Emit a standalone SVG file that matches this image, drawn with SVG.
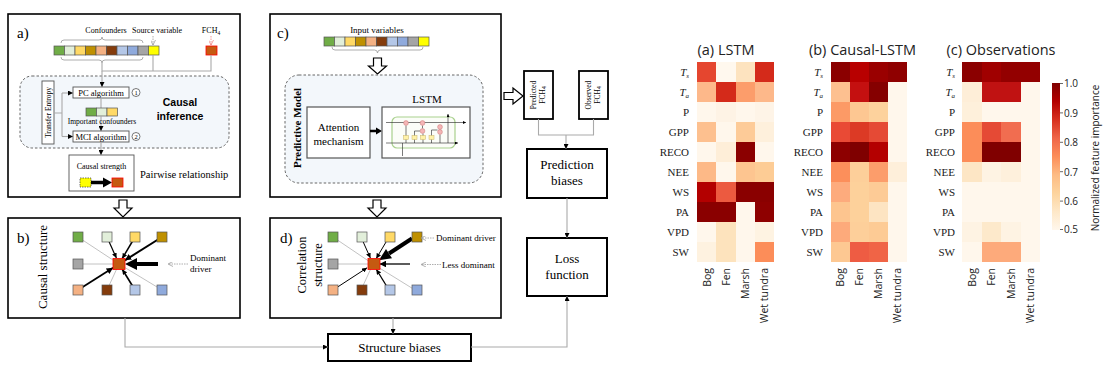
<svg xmlns="http://www.w3.org/2000/svg" width="1106" height="389" viewBox="0 0 1106 389">
<style>
.serif{font-family:"Liberation Serif","Times New Roman",serif;fill:#000}
.sans{font-family:"Open Sans","Liberation Sans",sans-serif;fill:#222}
.bsans{font-family:"Liberation Sans",Arial,sans-serif;font-weight:bold;fill:#000}
.panel{fill:#fff;stroke:#000;stroke-width:1.6}
.box{fill:#fff;stroke:#000;stroke-width:2}
.sbox{fill:#fff;stroke:#555;stroke-width:0.9}
.region{fill:#f3f7fb;stroke:#666;stroke-width:1;stroke-dasharray:2.5 2}
.conn{fill:none;stroke:#aaa;stroke-width:1.1}
.gl{stroke:#bbb;stroke-width:0.9}
.bl{stroke:#000;fill:none}
.hollow{fill:#fff;stroke:#000;stroke-width:1.2}
.sq{stroke:#555;stroke-width:0.7}
.brk{fill:none;stroke:#999;stroke-width:0.8}
.lbl{font-family:"Liberation Serif","Times New Roman",serif;font-size:11px;fill:#1a1a1a}
.it{font-style:italic}
.col{font-family:"Open Sans","Liberation Sans",sans-serif;font-size:10.5px;fill:#222}
.hm rect{shape-rendering:crispEdges}
</style>
<defs>
<marker id="a5" viewBox="0 0 10 10" refX="10" refY="5" markerWidth="5" markerHeight="5" markerUnits="userSpaceOnUse" orient="auto"><path d="M0,0 L10,5 L0,10 z" fill="#000"/></marker>
<marker id="a6" viewBox="0 0 10 10" refX="10" refY="5" markerWidth="6.5" markerHeight="6.5" markerUnits="userSpaceOnUse" orient="auto"><path d="M0,0 L10,5 L0,10 z" fill="#000"/></marker>
<marker id="a3" viewBox="0 0 10 10" refX="10" refY="5" markerWidth="3" markerHeight="3" markerUnits="userSpaceOnUse" orient="auto"><path d="M0,0 L10,5 L0,10 z" fill="#000"/></marker>
<marker id="ag" viewBox="0 0 10 10" refX="10" refY="5" markerWidth="5" markerHeight="5" markerUnits="userSpaceOnUse" orient="auto"><path d="M0,0 L10,5 L0,10" fill="none" stroke="#999" stroke-width="1.5"/></marker>
<marker id="ap" viewBox="0 0 10 10" refX="10" refY="5" markerWidth="5" markerHeight="5" markerUnits="userSpaceOnUse" orient="auto"><path d="M0,0 L10,5 L0,10" fill="none" stroke="#f08080" stroke-width="1.5"/></marker>
<g id="strip">
<rect class="sq" x="0" y="0" width="10.5" height="9" fill="#70ad47"/>
<rect class="sq" x="10.5" y="0" width="10.5" height="9" fill="#e2efda"/>
<rect class="sq" x="21" y="0" width="10.5" height="9" fill="#ffd966"/>
<rect class="sq" x="31.5" y="0" width="10.5" height="9" fill="#bf9000"/>
<rect class="sq" x="42" y="0" width="10.5" height="9" fill="#f4b183"/>
<rect class="sq" x="52.5" y="0" width="10.5" height="9" fill="#843c0c"/>
<rect class="sq" x="63" y="0" width="10.5" height="9" fill="#b4c7e7"/>
<rect class="sq" x="73.5" y="0" width="10.5" height="9" fill="#8faadc"/>
<rect class="sq" x="84" y="0" width="10.5" height="9" fill="#a5a5a5"/>
<rect class="sq" x="94.5" y="0" width="10.5" height="9" fill="#ffff00"/>
</g>
<g id="grid">
<rect class="sq" x="-5" y="-5" width="10" height="10" fill="#70ad47"/>
<rect class="sq" x="24" y="-5" width="10" height="10" fill="#e2efda"/>
<rect class="sq" x="52" y="-5" width="10" height="10" fill="#ffd966"/>
<rect class="sq" x="79" y="-5" width="10" height="10" fill="#bf9000"/>
<rect class="sq" x="-5" y="22" width="10" height="10" fill="#a5a5a5"/>
<rect x="35" y="21.5" width="12" height="11" fill="#c55a11" stroke="#f00" stroke-width="0.8"/>
<rect class="sq" x="-5" y="48" width="10" height="10" fill="#f4b183"/>
<rect class="sq" x="24" y="48" width="10" height="10" fill="#843c0c"/>
<rect class="sq" x="52" y="48" width="10" height="10" fill="#b4c7e7"/>
<rect class="sq" x="79" y="48" width="10" height="10" fill="#8faadc"/>
</g>
<linearGradient id="orrd" x1="0" y1="1" x2="0" y2="0">
<stop offset="0" stop-color="#fff7ec"/><stop offset="0.125" stop-color="#fee8c8"/><stop offset="0.25" stop-color="#fdd49e"/><stop offset="0.375" stop-color="#fdbb84"/><stop offset="0.5" stop-color="#fc8d59"/><stop offset="0.625" stop-color="#ef6548"/><stop offset="0.75" stop-color="#d7301f"/><stop offset="0.875" stop-color="#b30000"/><stop offset="1" stop-color="#7f0000"/>
</linearGradient>
</defs>
<rect width="1106" height="389" fill="#fff"/>

<!-- Panel a -->
<g id="panel-a">
<rect class="panel" x="8" y="14" width="232" height="183"/>
<text class="serif" x="17" y="38" font-size="15">a)</text>
<text class="serif" x="106" y="33" font-size="8" text-anchor="middle">Confounders</text>
<text class="serif" x="157" y="33" font-size="8" text-anchor="middle">Source variable</text>
<text class="serif" x="211" y="33" font-size="8" text-anchor="middle">FCH<tspan font-size="5.5" dy="1.5">4</tspan></text>
<path class="brk" d="M61,43 Q61,40 64,40 L99,40 Q102,40 102,37 Q102,40 105,40 L140,40 Q143,40 143,43"/>
<use href="#strip" x="54" y="46"/>
<path class="brk" d="M61,57 Q61,60 64,60 L99,60 Q102,60 102,63 Q102,60 105,60 L140,60 Q143,60 143,57"/>
<line x1="153" y1="36" x2="153" y2="45" stroke="#999" stroke-width="0.8" stroke-dasharray="1.5 1" marker-end="url(#ag)"/>
<line x1="211" y1="36" x2="211" y2="45" stroke="#f08080" stroke-width="0.8" stroke-dasharray="1.5 1" marker-end="url(#ap)"/>
<rect x="206" y="46" width="11" height="9" fill="#c55a11" stroke="#f00" stroke-width="0.8"/>
<path class="conn" d="M102,63 V71 H211 V55 M153,55 V71"/>
<rect class="region" x="20" y="76" width="209" height="72" rx="12"/>
<path class="conn" d="M102,71 V87" marker-end="url(#a5)"/>
<rect class="sbox" x="42" y="81" width="12" height="63"/>
<text class="serif" font-size="7.5" text-anchor="middle" transform="translate(50.5,112.5) rotate(-90)">Transfer Entropy</text>
<path class="conn" d="M54,113 H62 M62,93 V136.5"/>
<path class="conn" d="M62,93 H73" marker-end="url(#a5)"/>
<path class="conn" d="M62,136.5 H73" marker-end="url(#a5)"/>
<rect class="sbox" x="73" y="87" width="56" height="11"/>
<text class="serif" x="101" y="95.5" font-size="8.5" text-anchor="middle">PC algorithm</text>
<circle cx="136" cy="92.5" r="4" fill="#fff" stroke="#555" stroke-width="0.8"/>
<text class="serif" x="136" y="95" font-size="6.5" text-anchor="middle">1</text>
<path class="conn" d="M101,98 V108"/>
<rect class="sq" x="86" y="108" width="10.5" height="8" fill="#70ad47"/>
<rect class="sq" x="96.5" y="108" width="10.5" height="8" fill="#e2efda"/>
<rect class="sq" x="107" y="108" width="10.5" height="8" fill="#ffd966"/>
<path class="conn" d="M101,116 V131" marker-end="url(#a5)"/>
<text class="serif" x="102" y="124" font-size="7.5" text-anchor="middle">Important confounders</text>
<rect class="sbox" x="73" y="131" width="56" height="11"/>
<text class="serif" x="101" y="139.5" font-size="8.5" text-anchor="middle">MCI algorithm</text>
<circle cx="136" cy="136.5" r="4" fill="#fff" stroke="#555" stroke-width="0.8"/>
<text class="serif" x="136" y="139" font-size="6.5" text-anchor="middle">2</text>
<text class="bsans" x="180" y="106" font-size="10.5" text-anchor="middle">Causal</text>
<text class="bsans" x="180" y="120" font-size="10.5" text-anchor="middle">inference</text>
<path class="conn" d="M101,142 V155" marker-end="url(#a5)"/>
<rect class="sbox" x="69" y="155" width="65" height="36"/>
<text class="serif" x="101.5" y="169" font-size="8" text-anchor="middle">Causal strength</text>
<rect x="80" y="178" width="11" height="9" fill="#ffff00" stroke="#333" stroke-width="0.7" stroke-dasharray="1.5 1"/>
<line x1="91" y1="182.5" x2="104" y2="182.5" stroke="#000" stroke-width="3.5"/>
<polygon points="112,182.5 103,177.5 103,187.5" fill="#000"/>
<rect x="112" y="178" width="11" height="9" fill="#c55a11" stroke="#f00" stroke-width="0.8"/>
<text class="serif" x="140" y="178" font-size="10.5">Pairwise relationship</text>
</g>

<!-- Panel b -->
<g id="panel-b">
<rect class="panel" x="8" y="218" width="232" height="100"/>
<text class="serif" x="17" y="243" font-size="15">b)</text>
<text class="serif" font-size="13" text-anchor="middle" transform="translate(47,267) rotate(-90)">Causal structure</text>
<line class="gl" x1="78" y1="237" x2="119" y2="264"/>
<line class="gl" x1="78" y1="264" x2="119" y2="264"/>
<line class="gl" x1="107" y1="290" x2="119" y2="264"/>
<line class="gl" x1="162" y1="290" x2="119" y2="264"/>
<line class="bl" stroke-width="1.2" x1="107" y1="237" x2="116.4" y2="258.1" marker-end="url(#a5)"/>
<line class="bl" stroke-width="1.5" x1="135" y1="237" x2="122.3" y2="258.4" marker-end="url(#a5)"/>
<line class="bl" stroke-width="2" x1="162" y1="237" x2="124.9" y2="260.3" marker-end="url(#a6)"/>
<line class="bl" stroke-width="1.8" x1="78" y1="290" x2="113.1" y2="267.8" marker-end="url(#a6)"/>
<line class="bl" stroke-width="1.6" x1="135" y1="290" x2="122.4" y2="269.5" marker-end="url(#a5)"/>
<line class="bl" stroke-width="4" x1="158" y1="264" x2="136" y2="264"/>
<polygon points="125,264 137,258 137,270" fill="#000"/>
<use href="#grid" x="78" y="237"/>
<line x1="188" y1="264" x2="168" y2="264" stroke="#999" stroke-width="0.8" stroke-dasharray="1.5 1" marker-end="url(#ag)"/>
<text class="serif" x="190" y="261" font-size="9" fill="#333">Dominant</text>
<text class="serif" x="190" y="272" font-size="9" fill="#333">driver</text>
</g>

<!-- Panel c -->
<g id="panel-c">
<rect class="panel" x="270" y="14" width="231" height="183"/>
<text class="serif" x="277" y="38" font-size="15">c)</text>
<text class="serif" x="377" y="33" font-size="9" text-anchor="middle">Input variables</text>
<use href="#strip" x="324" y="37"/>
<path class="brk" d="M332,47 Q332,50 335,50 L374.5,50 Q377.5,50 377.5,53 Q377.5,50 380.5,50 L420,50 Q423,50 423,47"/>
<path class="hollow" d="M373.5,58 H381.5 V66 H386.5 L377.5,74 L368.5,66 H373.5 Z"/>
<rect class="region" x="285" y="75" width="198" height="108" rx="14"/>
<text class="serif" font-size="11" font-weight="bold" text-anchor="middle" transform="translate(301,128) rotate(-90)">Predictive Model</text>
<rect x="307" y="107" width="63" height="51" fill="#fff" stroke="#555" stroke-width="1.2"/>
<text class="serif" x="338.5" y="131" font-size="11" text-anchor="middle">Attention</text>
<text class="serif" x="338.5" y="145" font-size="11" text-anchor="middle">mechanism</text>
<line x1="370" y1="131" x2="377" y2="131" stroke="#000" stroke-width="2.5"/>
<polygon points="382,131 376,127.5 376,134.5" fill="#000"/>
<text class="serif" x="427" y="103" font-size="11" text-anchor="middle">LSTM</text>
<rect x="382" y="107" width="88" height="51" fill="#fff" stroke="#555" stroke-width="1.2"/>
<rect x="392" y="117" width="63" height="31" rx="5" fill="#fbfdf8" stroke="#a9d18e" stroke-width="1.2"/>
<g stroke="#222" stroke-width="0.6" fill="none">
<path d="M386,122.5 H466" marker-end="url(#a3)"/>
<path d="M386,143 H458" marker-end="url(#a3)"/>
<path d="M402.5,156 V143"/>
<path d="M448,143 V114" marker-end="url(#a3)"/>
<path d="M406,143 V125.5 M414.5,143 V131 H420 M423,143 V133.5 M431.5,143 V130 H437.5 M440,125 V129.5 M440,134.5 V143 M422.5,128.5 V125.5"/>
</g>
<g fill="#f4b6b6" stroke="#c77" stroke-width="0.5">
<circle cx="406" cy="123" r="2.4"/><circle cx="422.5" cy="123" r="2.4"/><circle cx="440" cy="127" r="2.4"/><circle cx="440" cy="132" r="2.4"/><circle cx="422.5" cy="131" r="2.4"/>
</g>
<g fill="#fff2a8" stroke="#c9b56a" stroke-width="0.5">
<rect x="403.5" y="135.5" width="5" height="4"/><rect x="412" y="135.5" width="5" height="4"/><rect x="420.5" y="135.5" width="5" height="4"/><rect x="429" y="135.5" width="5" height="4"/>
</g>
</g>

<!-- Panel d -->
<g id="panel-d">
<rect class="panel" x="270" y="218" width="231" height="100"/>
<text class="serif" x="280" y="243" font-size="15">d)</text>
<text class="serif" font-size="12.5" text-anchor="middle" transform="translate(306,265) rotate(-90)">Correlation</text>
<text class="serif" font-size="12.5" text-anchor="middle" transform="translate(322,265) rotate(-90)">structure</text>
<line class="gl" x1="333" y1="237" x2="373" y2="264"/>
<line class="gl" x1="333" y1="264" x2="373" y2="264"/>
<line class="gl" x1="361" y1="290" x2="373" y2="264"/>
<line class="gl" x1="415" y1="290" x2="373" y2="264"/>
<line class="bl" stroke-width="1" x1="361" y1="237" x2="370.4" y2="258.1" marker-end="url(#a5)"/>
<line class="bl" stroke-width="1" x1="389" y1="237" x2="376.3" y2="258.4" marker-end="url(#a5)"/>
<line class="bl" stroke-width="1" x1="333" y1="290" x2="367.1" y2="267.8" marker-end="url(#a5)"/>
<line class="bl" stroke-width="1.3" x1="389" y1="290" x2="376.4" y2="269.5" marker-end="url(#a5)"/>
<line stroke="#333" stroke-width="1.6" x1="410" y1="264" x2="379.5" y2="264" marker-end="url(#a6)"/>
<line class="bl" stroke-width="4" x1="412" y1="238.5" x2="389" y2="253.5"/>
<polygon points="378.9,260.2 392,258.3 386,249.1" fill="#000"/>
<use href="#grid" x="333" y="237"/>
<line x1="434" y1="238" x2="421" y2="238" stroke="#999" stroke-width="0.8" stroke-dasharray="1.5 1" marker-end="url(#ag)"/>
<text class="serif" x="436" y="241" font-size="9" fill="#333">Dominant driver</text>
<line x1="441" y1="264.5" x2="421" y2="264.5" stroke="#999" stroke-width="0.8" stroke-dasharray="1.5 1" marker-end="url(#ag)"/>
<text class="serif" x="442" y="267.5" font-size="9" fill="#333">Less dominant</text>
</g>

<!-- Hollow block arrows -->
<g id="block-arrows">
<path class="hollow" d="M119,200 H127 V208 H132 L123,217 L114,208 H119 Z"/>
<path class="hollow" d="M373,200 H381 V208 H386 L377,217 L368,208 H373 Z"/>
<path class="hollow" d="M504,92.5 H513 V88 L523,96 L513,104 V99.5 H504 Z"/>
</g>

<!-- Middle nodes -->
<g id="predicted-fch4">
<rect x="524" y="71" width="29" height="48" fill="#fff" stroke="#000" stroke-width="1.8"/>
<text class="serif" font-size="7.5" text-anchor="middle" transform="translate(536,95) rotate(-90)">Predicted</text>
<text class="serif" font-size="7.5" text-anchor="middle" transform="translate(544.5,95) rotate(-90)">FCH<tspan font-size="5.5" dy="1.2">4</tspan></text>
</g>
<g id="observed-fch4">
<rect x="579" y="71" width="29" height="48" fill="#fff" stroke="#000" stroke-width="1.8"/>
<text class="serif" font-size="7.5" text-anchor="middle" transform="translate(591,95) rotate(-90)">Observed</text>
<text class="serif" font-size="7.5" text-anchor="middle" transform="translate(599.5,95) rotate(-90)">FCH<tspan font-size="5.5" dy="1.2">4</tspan></text>
</g>
<g id="prediction-biases">
<rect class="box" x="527" y="149" width="80" height="49"/>
<text class="serif" x="567" y="169" font-size="13" text-anchor="middle">Prediction</text>
<text class="serif" x="567" y="185" font-size="13" text-anchor="middle">biases</text>
</g>
<g id="loss-function">
<rect class="box" x="527" y="238" width="80" height="58"/>
<text class="serif" x="567" y="263" font-size="13" text-anchor="middle">Loss</text>
<text class="serif" x="567" y="279" font-size="13" text-anchor="middle">function</text>
</g>
<g id="structure-biases">
<rect class="box" x="328" y="334" width="143" height="27"/>
<text class="serif" x="399.5" y="352" font-size="13" text-anchor="middle">Structure biases</text>
</g>

<!-- Connectors -->
<g id="connectors">
<path class="conn" d="M538.5,119 V135 H593.5 V119"/>
<path class="conn" d="M566,135 V149" marker-end="url(#a5)"/>
<path class="conn" d="M567,198 V238" marker-end="url(#a5)"/>
<path class="conn" d="M125,318 V347 H328" marker-end="url(#a5)"/>
<path class="conn" d="M471,347 H567 V296" marker-end="url(#a5)"/>
<path class="conn" d="M393,318 V334" marker-end="url(#a5)"/>
</g>

<!-- Heatmap a -->
<g id="heatmap-lstm" class="hm">
<text class="sans" x="726" y="55" font-size="14.5" text-anchor="middle">(a) LSTM</text>
<g>
<rect x="697" y="62" width="19.5" height="20" fill="#e5462f"/><rect x="716.25" y="62" width="19.5" height="20" fill="#fff8ee"/><rect x="735.5" y="62" width="19.5" height="20" fill="#fde3bf"/><rect x="754.75" y="62" width="19.25" height="20" fill="#d42a1a"/>
<rect x="697" y="82" width="19.5" height="20" fill="#fdb88a"/><rect x="716.25" y="82" width="19.5" height="20" fill="#d42a1a"/><rect x="735.5" y="82" width="19.5" height="20" fill="#fc9d6b"/><rect x="754.75" y="82" width="19.25" height="20" fill="#fdb88a"/>
<rect x="697" y="102" width="19.5" height="20" fill="#fff7ec"/><rect x="716.25" y="102" width="19.5" height="20" fill="#fef3e5"/><rect x="735.5" y="102" width="19.5" height="20" fill="#fff7ec"/><rect x="754.75" y="102" width="19.25" height="20" fill="#fef4e7"/>
<rect x="697" y="122" width="19.5" height="20" fill="#fdc08f"/><rect x="716.25" y="122" width="19.5" height="20" fill="#fff7ec"/><rect x="735.5" y="122" width="19.5" height="20" fill="#fdcb98"/><rect x="754.75" y="122" width="19.25" height="20" fill="#fef0dc"/>
<rect x="697" y="142" width="19.5" height="20" fill="#fff7ec"/><rect x="716.25" y="142" width="19.5" height="20" fill="#feeed8"/><rect x="735.5" y="142" width="19.5" height="20" fill="#8b0000"/><rect x="754.75" y="142" width="19.25" height="20" fill="#fff7ec"/>
<rect x="697" y="162" width="19.5" height="20" fill="#fdb987"/><rect x="716.25" y="162" width="19.5" height="20" fill="#fff7ec"/><rect x="735.5" y="162" width="19.5" height="20" fill="#fdc590"/><rect x="754.75" y="162" width="19.25" height="20" fill="#fdcc95"/>
<rect x="697" y="182" width="19.5" height="20" fill="#b30000"/><rect x="716.25" y="182" width="19.5" height="20" fill="#ec5a40"/><rect x="735.5" y="182" width="19.5" height="20" fill="#8a0000"/><rect x="754.75" y="182" width="19.25" height="20" fill="#8a0000"/>
<rect x="697" y="202" width="19.5" height="20" fill="#8a0000"/><rect x="716.25" y="202" width="19.5" height="20" fill="#8a0000"/><rect x="735.5" y="202" width="19.5" height="20" fill="#fff7ec"/><rect x="754.75" y="202" width="19.25" height="20" fill="#8e0000"/>
<rect x="697" y="222" width="19.5" height="20" fill="#fff7ec"/><rect x="716.25" y="222" width="19.5" height="20" fill="#fde3bd"/><rect x="735.5" y="222" width="19.5" height="20" fill="#fff7ec"/><rect x="754.75" y="222" width="19.25" height="20" fill="#fef3e2"/>
<rect x="697" y="242" width="19.5" height="20" fill="#fef2e0"/><rect x="716.25" y="242" width="19.5" height="20" fill="#fde3bd"/><rect x="735.5" y="242" width="19.5" height="20" fill="#fff7ec"/><rect x="754.75" y="242" width="19.25" height="20" fill="#fc8d59"/>
</g>
<g text-anchor="end">
<text class="lbl it" x="689" y="75.5">T<tspan font-size="7" dy="2">s</tspan></text>
<text class="lbl it" x="689" y="95.5">T<tspan font-size="7" dy="2">a</tspan></text>
<text class="lbl" x="689" y="115.5">P</text><text class="lbl" x="689" y="135.5">GPP</text><text class="lbl" x="689" y="155.5">RECO</text><text class="lbl" x="689" y="175.5">NEE</text><text class="lbl" x="689" y="195.5">WS</text><text class="lbl" x="689" y="215.5">PA</text><text class="lbl" x="689" y="235.5">VPD</text><text class="lbl" x="689" y="255.5">SW</text>
</g>
<g text-anchor="end">
<text class="col" transform="translate(710.5,268) rotate(-90)">Bog</text>
<text class="col" transform="translate(729.5,268) rotate(-90)">Fen</text>
<text class="col" transform="translate(748.8,268) rotate(-90)">Marsh</text>
<text class="col" transform="translate(768,268) rotate(-90)">Wet tundra</text>
</g>
</g>

<!-- Heatmap b -->
<g id="heatmap-causal-lstm" class="hm">
<text class="sans" x="862.5" y="55" font-size="14.5" text-anchor="middle">(b) Causal-LSTM</text>
<g>
<rect x="831" y="62" width="19.3" height="20" fill="#8b0000"/><rect x="850" y="62" width="19.3" height="20" fill="#b80000"/><rect x="869" y="62" width="19.3" height="20" fill="#9a0000"/><rect x="888" y="62" width="19" height="20" fill="#8f0000"/>
<rect x="831" y="82" width="19.3" height="20" fill="#fdc090"/><rect x="850" y="82" width="19.3" height="20" fill="#c41010"/><rect x="869" y="82" width="19.3" height="20" fill="#850000"/><rect x="888" y="82" width="19" height="20" fill="#fff7ec"/>
<rect x="831" y="102" width="19.3" height="20" fill="#fc9a66"/><rect x="850" y="102" width="19.3" height="20" fill="#fdc792"/><rect x="869" y="102" width="19.3" height="20" fill="#fdd29d"/><rect x="888" y="102" width="19" height="20" fill="#fff7ec"/>
<rect x="831" y="122" width="19.3" height="20" fill="#e94a35"/><rect x="850" y="122" width="19.3" height="20" fill="#dc3a25"/><rect x="869" y="122" width="19.3" height="20" fill="#e54a35"/><rect x="888" y="122" width="19" height="20" fill="#fff7ec"/>
<rect x="831" y="142" width="19.3" height="20" fill="#8d0000"/><rect x="850" y="142" width="19.3" height="20" fill="#7f0000"/><rect x="869" y="142" width="19.3" height="20" fill="#b40000"/><rect x="888" y="142" width="19" height="20" fill="#fff7ec"/>
<rect x="831" y="162" width="19.3" height="20" fill="#fc8f5b"/><rect x="850" y="162" width="19.3" height="20" fill="#fdcf9a"/><rect x="869" y="162" width="19.3" height="20" fill="#fc9d6b"/><rect x="888" y="162" width="19" height="20" fill="#feefda"/>
<rect x="831" y="182" width="19.3" height="20" fill="#fdab7d"/><rect x="850" y="182" width="19.3" height="20" fill="#fdd19b"/><rect x="869" y="182" width="19.3" height="20" fill="#fdcb96"/><rect x="888" y="182" width="19" height="20" fill="#fff7ec"/>
<rect x="831" y="202" width="19.3" height="20" fill="#fdc58f"/><rect x="850" y="202" width="19.3" height="20" fill="#fdd19b"/><rect x="869" y="202" width="19.3" height="20" fill="#fde4c2"/><rect x="888" y="202" width="19" height="20" fill="#fff7ec"/>
<rect x="831" y="222" width="19.3" height="20" fill="#fdaa7b"/><rect x="850" y="222" width="19.3" height="20" fill="#fdcf9a"/><rect x="869" y="222" width="19.3" height="20" fill="#fdcb95"/><rect x="888" y="222" width="19" height="20" fill="#fff7ec"/>
<rect x="831" y="242" width="19.3" height="20" fill="#fdc892"/><rect x="850" y="242" width="19.3" height="20" fill="#ee5c43"/><rect x="869" y="242" width="19.3" height="20" fill="#f06446"/><rect x="888" y="242" width="19" height="20" fill="#fff7ec"/>
</g>
<g text-anchor="end">
<text class="lbl it" x="823" y="75.5">T<tspan font-size="7" dy="2">s</tspan></text>
<text class="lbl it" x="823" y="95.5">T<tspan font-size="7" dy="2">a</tspan></text>
<text class="lbl" x="823" y="115.5">P</text><text class="lbl" x="823" y="135.5">GPP</text><text class="lbl" x="823" y="155.5">RECO</text><text class="lbl" x="823" y="175.5">NEE</text><text class="lbl" x="823" y="195.5">WS</text><text class="lbl" x="823" y="215.5">PA</text><text class="lbl" x="823" y="235.5">VPD</text><text class="lbl" x="823" y="255.5">SW</text>
</g>
<g text-anchor="end">
<text class="col" transform="translate(844,268) rotate(-90)">Bog</text>
<text class="col" transform="translate(863,268) rotate(-90)">Fen</text>
<text class="col" transform="translate(882,268) rotate(-90)">Marsh</text>
<text class="col" transform="translate(901,268) rotate(-90)">Wet tundra</text>
</g>
</g>

<!-- Heatmap c -->
<g id="heatmap-observations" class="hm">
<text class="sans" x="1001" y="55" font-size="14.5" text-anchor="middle">(c) Observations</text>
<g>
<rect x="962" y="62" width="19.8" height="20" fill="#8b0000"/><rect x="981.5" y="62" width="19.8" height="20" fill="#a00000"/><rect x="1001" y="62" width="19.8" height="20" fill="#930000"/><rect x="1020.5" y="62" width="19.5" height="20" fill="#930000"/>
<rect x="962" y="82" width="19.8" height="20" fill="#feeed8"/><rect x="981.5" y="82" width="19.8" height="20" fill="#c01212"/><rect x="1001" y="82" width="19.8" height="20" fill="#c01212"/><rect x="1020.5" y="82" width="19.5" height="20" fill="#fff7ec"/>
<rect x="962" y="102" width="19.8" height="20" fill="#fef0db"/><rect x="981.5" y="102" width="19.8" height="20" fill="#fff7ec"/><rect x="1001" y="102" width="19.8" height="20" fill="#fff7ec"/><rect x="1020.5" y="102" width="19.5" height="20" fill="#fff7ec"/>
<rect x="962" y="122" width="19.8" height="20" fill="#fc8d59"/><rect x="981.5" y="122" width="19.8" height="20" fill="#e54a35"/><rect x="1001" y="122" width="19.8" height="20" fill="#f16d50"/><rect x="1020.5" y="122" width="19.5" height="20" fill="#fff7ec"/>
<rect x="962" y="142" width="19.8" height="20" fill="#fc8d59"/><rect x="981.5" y="142" width="19.8" height="20" fill="#800000"/><rect x="1001" y="142" width="19.8" height="20" fill="#800000"/><rect x="1020.5" y="142" width="19.5" height="20" fill="#fff7ec"/>
<rect x="962" y="162" width="19.8" height="20" fill="#fde6c5"/><rect x="981.5" y="162" width="19.8" height="20" fill="#fef3e3"/><rect x="1001" y="162" width="19.8" height="20" fill="#fef0dc"/><rect x="1020.5" y="162" width="19.5" height="20" fill="#fff7ec"/>
<rect x="962" y="182" width="78" height="40" fill="#fff7ec"/>
<rect x="962" y="222" width="19.8" height="20" fill="#fef3e3"/><rect x="981.5" y="222" width="19.8" height="20" fill="#fde9cb"/><rect x="1001" y="222" width="19.8" height="20" fill="#fef3e3"/><rect x="1020.5" y="222" width="19.5" height="20" fill="#fff7ec"/>
<rect x="962" y="242" width="19.8" height="20" fill="#fff7ec"/><rect x="981.5" y="242" width="19.8" height="20" fill="#fdaa7b"/><rect x="1001" y="242" width="19.8" height="20" fill="#fdaa7b"/><rect x="1020.5" y="242" width="19.5" height="20" fill="#fff7ec"/>
</g>
<g text-anchor="end">
<text class="lbl it" x="955" y="75.5">T<tspan font-size="7" dy="2">s</tspan></text>
<text class="lbl it" x="955" y="95.5">T<tspan font-size="7" dy="2">a</tspan></text>
<text class="lbl" x="955" y="115.5">P</text><text class="lbl" x="955" y="135.5">GPP</text><text class="lbl" x="955" y="155.5">RECO</text><text class="lbl" x="955" y="175.5">NEE</text><text class="lbl" x="955" y="195.5">WS</text><text class="lbl" x="955" y="215.5">PA</text><text class="lbl" x="955" y="235.5">VPD</text><text class="lbl" x="955" y="255.5">SW</text>
</g>
<g text-anchor="end">
<text class="col" transform="translate(975.5,268) rotate(-90)">Bog</text>
<text class="col" transform="translate(995,268) rotate(-90)">Fen</text>
<text class="col" transform="translate(1014.5,268) rotate(-90)">Marsh</text>
<text class="col" transform="translate(1034,268) rotate(-90)">Wet tundra</text>
</g>
</g>

<!-- Colorbar -->
<g id="colorbar">
<rect x="1052" y="83" width="8" height="147" fill="url(#orrd)"/>
<g stroke="#444" stroke-width="0.8">
<line x1="1060" y1="83.5" x2="1063" y2="83.5"/><line x1="1060" y1="112.9" x2="1063" y2="112.9"/><line x1="1060" y1="142.3" x2="1063" y2="142.3"/><line x1="1060" y1="171.7" x2="1063" y2="171.7"/><line x1="1060" y1="201.1" x2="1063" y2="201.1"/><line x1="1060" y1="229.5" x2="1063" y2="229.5"/>
</g>
<g class="sans" font-size="10">
<text x="1064" y="87">1.0</text><text x="1064" y="116.5">0.9</text><text x="1064" y="146">0.8</text><text x="1064" y="175.5">0.7</text><text x="1064" y="205">0.6</text><text x="1064" y="233">0.5</text>
</g>
<text class="sans" font-size="10" text-anchor="middle" transform="translate(1099,158) rotate(-90)">Normalized feature importance</text>
</g>
</svg>
